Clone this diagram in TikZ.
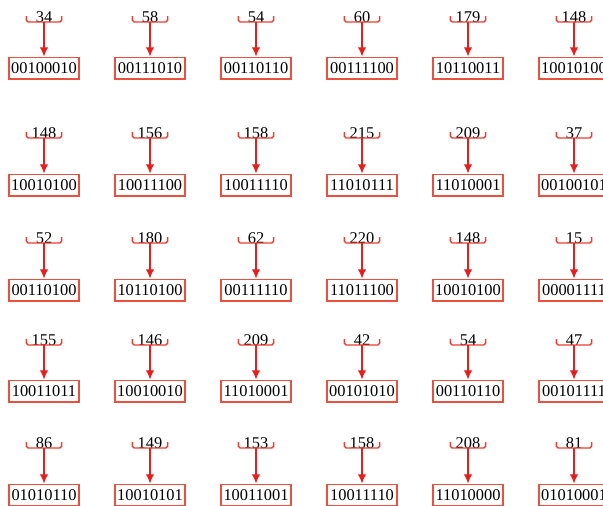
\documentclass[tikz,border=0pt]{standalone}
\usepackage{fontspec}
\setmainfont{Liberation Serif}
\usetikzlibrary{arrows.meta}
\definecolor{arrowred}{RGB}{232,30,28}
\definecolor{boxred}{RGB}{234,80,62}
\definecolor{bracered}{RGB}{236,62,50}
\tikzset{
  >={Latex[length=4.6pt,width=4.2pt]},
  dec/.style={inner sep=0pt,anchor=base,font=\fontsize{8.2}{10}\selectfont},
  bin/.style={draw=boxred,line width=0.9pt,inner sep=1pt,minimum width=35pt,
    minimum height=10.6pt,font=\fontsize{8.2}{10}\selectfont},
  hook/.style={draw=bracered,line width=0.7pt,rounded corners=0.9pt},
  conv/.style={->,draw=arrowred,line width=0.65pt},
}

\begin{document}
\begin{tikzpicture}[x=0.5pt,y=-0.5pt]
  \useasboundingbox (0,0) rectangle (603,505);
  \clip (0,0) rectangle (603,505);
  % rows: brace level / box centre / values
  \foreach \ky/\by/\row [count=\r] in {
      22/68/{34/00100010,58/00111010,54/00110110,60/00111100,179/10110011,148/10010100},
      138/185/{148/10010100,156/10011100,158/10011110,215/11010111,209/11010001,37/00100101},
      243/290/{52/00110100,180/10110100,62/00111110,220/11011100,148/10010100,15/00001111},
      345/391/{155/10011011,146/10010010,209/11010001,42/00101010,54/00110110,47/00101111},
      448/495/{86/01010110,149/10010101,153/10011001,158/10011110,208/11010000,81/01010001}}{
    \foreach \d/\b [count=\c] in \row {
      \pgfmathsetmacro{\px}{44+106*(\c-1)}
      \node[dec] (num-\r-\c) at (\px,\ky) {\d};
      \coordinate (k-\r-\c) at (\px,\ky);
      \draw[hook] ([xshift=-8.8pt,yshift=3pt]k-\r-\c) -- ++(0,-3pt) -- ++(17.6pt,0) -- ++(0,3pt);
      \node[bin] (bin-\r-\c) at (\px,\by) {\b};
      \draw[conv] (k-\r-\c) -- (bin-\r-\c);
    }
  }
\end{tikzpicture}
\end{document}
